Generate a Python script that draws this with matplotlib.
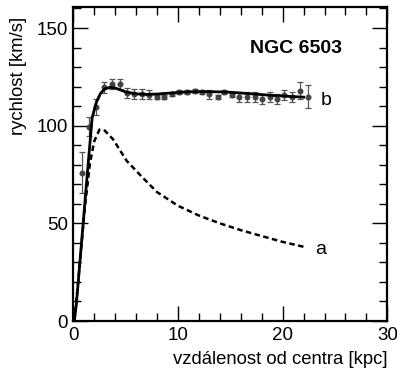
import matplotlib
matplotlib.use("Agg")
import matplotlib.pyplot as plt
import matplotlib.transforms as mtransforms
from matplotlib.ticker import MultipleLocator

plt.rcParams['font.family'] = ['Liberation Sans', 'DejaVu Sans']

# measured rotation curve points
obs_r = [0.83, 1.53, 2.17, 2.96, 3.73, 4.46, 5.16, 5.83, 6.53, 7.23, 8.02, 8.69, 9.4,
         10.12, 10.83, 11.62, 12.32, 12.99, 13.79, 14.42, 15.13, 15.86, 16.62, 17.36,
         18.05, 18.79, 19.42, 20.15, 20.92, 21.65, 22.39]
obs_v = [76, 99.5, 109.7, 119.6, 121.3, 121.3, 116.9, 116.2, 116.2, 115.9, 114.8, 114.8, 116,
         117.4, 117.4, 117.9, 117.4, 116, 114.5, 117.4, 115.7, 114.8, 114.8, 114.8,
         113.7, 114.8, 113.7, 115.7, 114.8, 117.9, 114.8]
obs_err = [10.5, 5, 4, 3, 2.5, 2.5, 2.5, 2.5, 2.5, 2.5, 1, 1, 1,
           1, 1, 1, 1, 2.5, 1, 1, 1, 2.5, 2.5, 2.5,
           2.5, 2.5, 2.5, 2.5, 2.5, 4.3, 5.8]

# curve b (total fit)
b_r = [0.1, 0.3, 0.8, 1.3, 1.8, 2.2, 2.6, 3.0, 3.5, 4.0, 5.0, 6.0, 7.0, 8.0, 9.0, 10.0,
       11.0, 12.0, 13.0, 14.0, 15.0, 16.0, 17.0, 18.0, 19.0, 20.0, 21.0, 22.0]
b_v = [0, 9, 41, 73, 104, 112, 116.5, 118.8, 119.6, 119.3, 117.3, 116.3, 116.0, 116.2, 116.6, 117.0,
       117.3, 117.4, 117.4, 117.3, 117.1, 116.7, 116.3, 115.9, 115.5, 115.2, 114.9, 114.6]

# curve a (disk)
a_r = [0.1, 0.6, 1.1, 1.6, 2.0, 2.5, 3.0, 3.8, 5.1, 6.7, 8, 10, 12, 14, 16, 18, 20, 22]
a_v = [0, 28, 58, 81, 92, 98, 97.5, 93, 82, 73, 66, 59, 54, 50, 46.5, 43.5, 40.5, 38]

fig = plt.figure(figsize=(3.97, 3.68), dpi=100)
ax = fig.add_axes([73.3/397, 1-321/368, (387.3-73.3)/397, (321-7.3)/368])

ax.plot(b_r, b_v, color='black', lw=2.0, zorder=3)
ax.plot(a_r, a_v, color='black', lw=1.8, ls=(0, (2.2, 1.4)), zorder=3)
ax.errorbar(obs_r, obs_v, yerr=obs_err, fmt='o', ms=3.3, color='#444444',
            ecolor='#555555', elinewidth=0.9, capsize=2.2, capthick=0.9, zorder=2)

ax.set_xlim(0, 30)
ax.set_ylim(0, 160.6)
ax.xaxis.set_major_locator(MultipleLocator(10))
ax.xaxis.set_minor_locator(MultipleLocator(2))
ax.yaxis.set_major_locator(MultipleLocator(50))
ax.yaxis.set_minor_locator(MultipleLocator(10))
ax.tick_params(which='both', direction='in', top=True, right=True, width=1.0,
               labelsize=13.5)
ax.tick_params(axis='x', pad=4.5)
ax.tick_params(axis='y', pad=4)
ax.tick_params(which='major', length=11)
ax.tick_params(which='minor', length=6)
for s in ax.spines.values():
    s.set_linewidth(1.6)

fig.canvas.draw()
xl = ax.get_xticklabels()
xl[-1].set_transform(xl[-1].get_transform() +
                     mtransforms.ScaledTranslation(-3/100, 0, fig.dpi_scale_trans))

ax.set_xlabel('vzdálenost od centra [kpc]', fontsize=13.3, loc='right', labelpad=5)
ax.set_ylabel('rychlost [km/s]', fontsize=13.3, loc='top')
ax.yaxis.set_label_coords((27 - 73.3) / 314, (321 - 17) / 313.7)

ax.text(21.27, 137.2, 'NGC 6503', fontsize=14, fontweight='bold',
        ha='center', va='baseline')
ax.text(23.6, 110.6, 'b', fontsize=14, ha='left', va='baseline')
ax.text(23.1, 34.4, 'a', fontsize=14, ha='left', va='baseline')

fig.savefig('out.png', dpi=100)
